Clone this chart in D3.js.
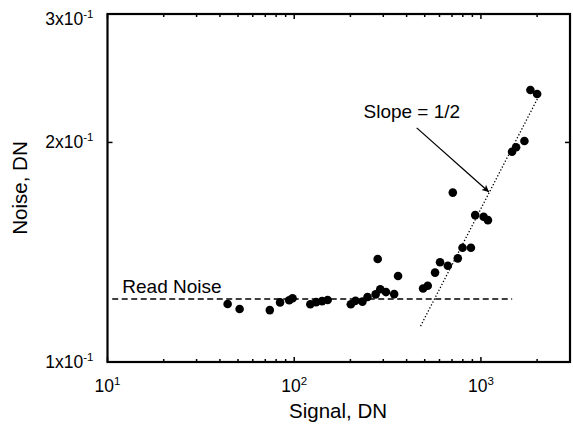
<!DOCTYPE html>
<html>
<head>
  <meta charset="UTF-8">
  <title>Noise vs Signal</title>
  <script src="https://cdn.jsdelivr.net/npm/d3@7"></script>
  <style>
    body { margin: 0; background: white; font-family: "Liberation Sans", Arial, sans-serif; }
    svg text { fill: black; }
  </style>
</head>
<body>
<div id="chart"></div>
<script>
  // measured points (signal DN, noise DN)
  var signal = [44, 51, 74, 84, 94, 98, 122, 131, 141, 151, 201, 213, 232, 247, 273, 280,
    289, 310, 343, 360, 490, 519, 568, 604, 665, 707, 752, 797, 884, 932, 1034, 1090,
    1468, 1543, 1710, 1841, 2000];
  var noise = [0.1201, 0.1182, 0.1178, 0.1207, 0.1215, 0.1223, 0.1200, 0.1208, 0.1212, 0.1216,
    0.1200, 0.1213, 0.1210, 0.1228, 0.1238, 0.1384, 0.1258, 0.1247, 0.1239, 0.1312,
    0.1261, 0.1272, 0.1326, 0.1370, 0.1355, 0.1707, 0.1387, 0.1434, 0.1434, 0.1590,
    0.1582, 0.1565, 0.1942, 0.1970, 0.2009, 0.2360, 0.2330];

  var readNoise = 0.122;
  var readNoiseX = [10.6, 1470];
  var slopeX = [475, 2050];
  var slopeY = [0.112, 0.232];
  var arrowFrom = [453, 0.2094];
  var arrowTo = [1104, 0.171];

  var xMajor = [10, 100, 1000];
  var xMajorExp = ['1', '2', '3'];
  var xMinor = [20, 30, 40, 50, 60, 70, 80, 90, 200, 300, 400, 500, 600, 700, 800, 900, 2000];
  var yMajor = [0.1, 0.2, 0.3];
  var yMajorMant = ['1', '2', '3'];

  var width = 573, height = 424;
  var margin = { left: 107.5, top: 14, right: 3, bottom: 62 };

  var svg = d3.select('#chart').append('svg')
    .attr('width', width)
    .attr('height', height);

  var x = d3.scaleLog().domain([10, 3000]).range([margin.left, width - margin.right]);
  var y = d3.scaleLog().domain([0.1, 0.3]).range([height - margin.bottom, margin.top]);

  var x0 = x.range()[0], x1 = x.range()[1];
  var y0 = y.range()[0], y1 = y.range()[1];

  // read noise dashed line
  svg.append('line')
    .attr('x1', x(readNoiseX[0])).attr('x2', x(readNoiseX[1]))
    .attr('y1', y(readNoise)).attr('y2', y(readNoise))
    .attr('stroke', 'black')
    .attr('stroke-width', 1.3)
    .attr('stroke-dasharray', '6,3.5');

  // slope 1/2 dotted line
  svg.append('line')
    .attr('x1', x(slopeX[0])).attr('y1', y(slopeY[0]))
    .attr('x2', x(slopeX[1])).attr('y2', y(slopeY[1]))
    .attr('stroke', 'black')
    .attr('stroke-width', 1.3)
    .attr('stroke-dasharray', '1.3,2');

  // points
  svg.selectAll('circle.pt')
    .data(signal)
    .enter()
    .append('circle')
    .attr('class', 'pt')
    .attr('cx', function (d) { return x(d); })
    .attr('cy', function (d, i) { return y(noise[i]); })
    .attr('r', 4.3)
    .attr('fill', 'black');

  // arrow
  var defs = svg.append('defs');
  defs.append('marker')
    .attr('id', 'head')
    .attr('viewBox', '0 0 10 10')
    .attr('refX', 10).attr('refY', 5)
    .attr('markerWidth', 12).attr('markerHeight', 7)
    .attr('markerUnits', 'userSpaceOnUse')
    .attr('orient', 'auto')
    .append('path')
    .attr('d', 'M0,0 L10,5 L0,10 L2.5,5 z')
    .attr('fill', 'black');

  svg.append('line')
    .attr('x1', x(arrowFrom[0])).attr('y1', y(arrowFrom[1]))
    .attr('x2', x(arrowTo[0])).attr('y2', y(arrowTo[1]))
    .attr('stroke', 'black')
    .attr('stroke-width', 1.3)
    .attr('marker-end', 'url(#head)');

  svg.append('text')
    .attr('x', x(235)).attr('y', y(0.2161))
    .style('font-size', '19px')
    .text('Slope = 1/2');

  svg.append('text')
    .attr('x', x(12)).attr('y', y(0.1245))
    .style('font-size', '19px')
    .text('Read Noise');

  // ticks (inward, both sides)
  var tickG = svg.append('g').attr('stroke', 'black').attr('stroke-width', 1.5);
  xMinor.forEach(function (v) {
    tickG.append('line').attr('x1', x(v)).attr('x2', x(v)).attr('y1', y0).attr('y2', y0 - 3);
    tickG.append('line').attr('x1', x(v)).attr('x2', x(v)).attr('y1', y1).attr('y2', y1 + 3);
  });
  xMajor.forEach(function (v) {
    tickG.append('line').attr('x1', x(v)).attr('x2', x(v)).attr('y1', y0).attr('y2', y0 - 5);
    tickG.append('line').attr('x1', x(v)).attr('x2', x(v)).attr('y1', y1).attr('y2', y1 + 5);
  });
  yMajor.forEach(function (v) {
    tickG.append('line').attr('x1', x0).attr('x2', x0 + 5).attr('y1', y(v)).attr('y2', y(v));
    tickG.append('line').attr('x1', x1).attr('x2', x1 - 5).attr('y1', y(v)).attr('y2', y(v));
  });

  // frame
  svg.append('rect')
    .attr('x', x0).attr('y', y1)
    .attr('width', x1 - x0).attr('height', y0 - y1)
    .attr('fill', 'none')
    .attr('stroke', 'black')
    .attr('stroke-width', 2.2);

  // x tick labels: 10^n
  xMajor.forEach(function (v, i) {
    var t = svg.append('text')
      .attr('x', x(v)).attr('y', y0 + 30)
      .attr('text-anchor', 'middle')
      .style('font-size', '17.5px');
    t.append('tspan').text('10');
    t.append('tspan').attr('dy', -7).style('font-size', '11.5px').text(xMajorExp[i]);
  });

  // y tick labels: mx10^-1
  yMajor.forEach(function (v, i) {
    var t = svg.append('text')
      .attr('x', x0 - 14).attr('y', Math.max(y(v) + 6, y1 + 11))
      .attr('text-anchor', 'end')
      .style('font-size', '17.5px');
    t.append('tspan').text(yMajorMant[i] + 'x10');
    t.append('tspan').attr('dy', -7).style('font-size', '11.5px').text('-1');
  });

  // axis titles
  svg.append('text')
    .attr('x', 338).attr('y', height - 6)
    .attr('text-anchor', 'middle')
    .style('font-size', '20.5px')
    .text('Signal, DN');

  svg.append('text')
    .attr('transform', 'translate(27,' + ((y0 + y1) / 2) + ') rotate(-90)')
    .attr('text-anchor', 'middle')
    .style('font-size', '20.5px')
    .text('Noise, DN');
</script>
</body>
</html>
